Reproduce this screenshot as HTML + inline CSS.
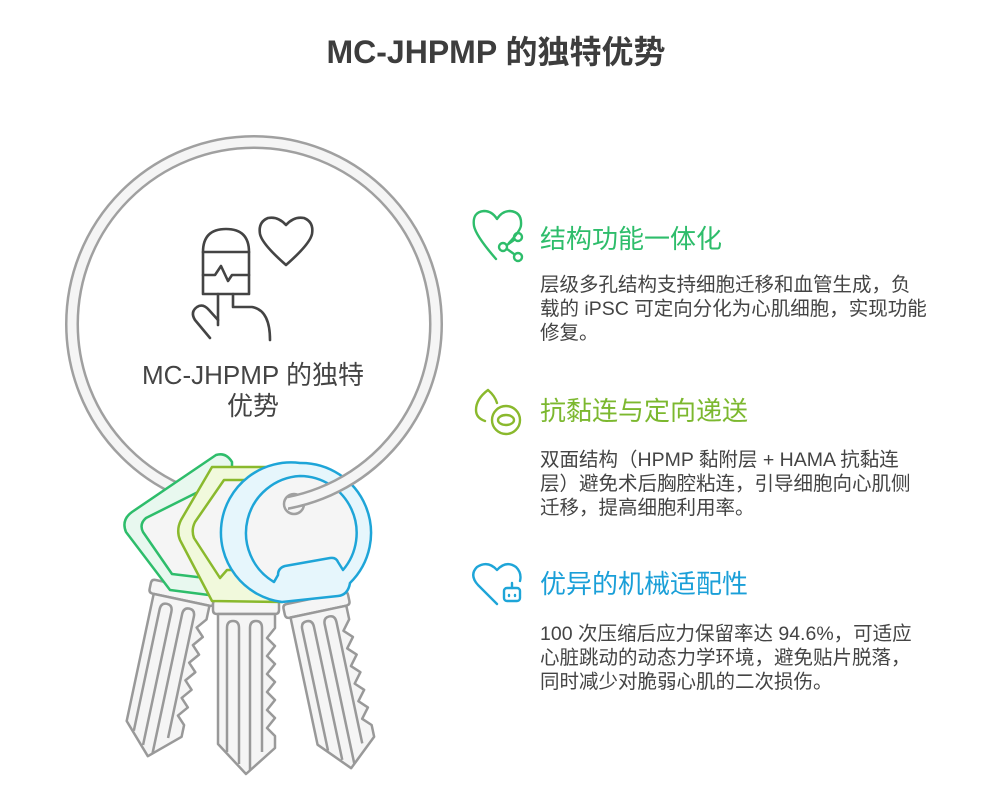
<!DOCTYPE html>
<html><head><meta charset="utf-8"><style>
body{margin:0;background:#fff}
svg{display:block}
text{font-family:"Liberation Sans","Noto Sans CJK SC",sans-serif}
</style></head><body>
<svg width="995" height="801" viewBox="0 0 995 801" xmlns="http://www.w3.org/2000/svg">
<defs>
<clipPath id="cl"><rect x="288" y="430" width="200" height="100"/></clipPath>
<g id="blade">
<path d="M-33,4 Q-33,0 -29,0 L29,0 Q33,0 33,4 L33,10 Q33,14 29,14 L-29,14 Q-33,14 -33,10 Z" fill="#f5f5f5" stroke="#999" stroke-width="2.5"/>
<path d="M-28,14 L-28,144 L0,174 L29,148 L29,136 L21,128 L29,118 L21,110 L29,100 L21,92 L29,82 L21,74 L29,64 L21,56 L29,46 L21,38 L29,28 L29,14 Z" fill="#f5f5f5" stroke="#999" stroke-width="2.5" stroke-linejoin="round"/>
<path d="M-19,152 L-19,28 Q-19,21 -13,21 Q-7,21 -7,28 L-7,164" fill="none" stroke="#999" stroke-width="2.5"/>
<path d="M4,170 L4,28 Q4,21 10,21 Q16,21 16,28 L16,152" fill="none" stroke="#999" stroke-width="2.5"/>
</g>
</defs>
<text x="496" y="63" text-anchor="middle" font-size="32" font-weight="bold" fill="#3d3d3d">MC-JHPMP 的独特优势</text>

<use href="#blade" transform="translate(184,586) rotate(12)"/>
<use href="#blade" transform="translate(246,600)"/>
<use href="#blade" transform="translate(315,598) rotate(-12)"/>

<circle cx="254" cy="324" r="182" fill="none" stroke="#a0a0a0" stroke-width="14"/>
<circle cx="254" cy="324" r="182" fill="none" stroke="#f5f5f5" stroke-width="9"/>

<path d="M216,455 Q226,452 232,462 L232,598 L170,590 L126,532 Q121,520 132,512 Z" fill="#e8f8ef" stroke="#2ebd6b" stroke-width="2.5" stroke-linejoin="round"/>
<path d="M222,480 L222,580 L172,574 L143,532 Q139,524 146,518 Z" fill="#f5f5f5" stroke="#2ebd6b" stroke-width="2.5" stroke-linejoin="round"/>
<path d="M212,467 L282,467 L282,602 L212,601 L180,540 Q176,530 181,520 Z" fill="#f1f9dc" stroke="#8ab92d" stroke-width="2.5" stroke-linejoin="round"/>
<path d="M224,480 L282,480 L282,570 L227,570 L220,578 L194,538 Q191,530 195,522 Z" fill="#f5f5f5" stroke="#8ab92d" stroke-width="2.5" stroke-linejoin="round"/>
<path d="M300,463 A70,70 0 0 1 350,583 Q348,595 338,596 L282,602 A70,70 0 0 1 300,463 Z" fill="#e6f6fc" stroke="#1ea5d8" stroke-width="2.5"/>
<path d="M300,476 A57,57 0 0 1 343,570 L338,562 Q336,557 330,558 L285,566 Q278,568 278,575 L274,582 A57,57 0 0 1 300,476 Z" fill="#f5f5f5" stroke="#1ea5d8" stroke-width="2.5" stroke-linejoin="round"/>
<circle cx="294" cy="504" r="10" fill="#f5f5f5" stroke="#a0a0a0" stroke-width="2.5"/>
<g clip-path="url(#cl)">
<circle cx="254" cy="324" r="182" fill="none" stroke="#a0a0a0" stroke-width="14"/>
<circle cx="254" cy="324" r="182" fill="none" stroke="#f5f5f5" stroke-width="9"/>
</g>

<g fill="none" stroke="#444" stroke-width="2.6" stroke-linecap="round" stroke-linejoin="round">
<path d="M203,294 L203,252 Q203,229 226,229 Q249,229 249,252 L249,294 Z"/>
<path d="M203,252 L249,252"/>
<path d="M203,275 L215,275 L221,266 L228,281 L232,275 L249,275"/>
<path d="M218,294 L218,325"/>
<path d="M233,294 L233,307 L252,307 Q270,310 270,340"/>
<path d="M210,338 L195,320 Q190,312 197,307 Q203,303 209,310 L218,320"/>
<path d="M286,225 Q278,216 268,218 Q258,222 260,234 Q262,244 286,265 Q310,244 312,234 Q314,222 304,218 Q294,216 286,225 Z"/>
</g>
<text x="253" y="384" text-anchor="middle" font-size="26" fill="#444">MC-JHPMP 的独特</text>
<text x="253" y="415" text-anchor="middle" font-size="26" fill="#444">优势</text>

<g fill="none" stroke-width="2.4" stroke-linecap="round" stroke-linejoin="round">
<g stroke="#2ebd6b">
<path d="M509,243 Q521,230 521,225 Q522,212 510,211 Q502,211 497,219 Q492,211 484,211 Q472,212 474,226 Q476,236 496,259"/>
<circle cx="518" cy="237" r="4"/><circle cx="503" cy="247" r="4"/><circle cx="518" cy="257" r="4"/>
<path d="M507,245 L514,240 M507,249 L514,254"/>
</g>
<g stroke="#8ab92d">
<path d="M488,390 Q476,399 476,410 Q476,418 485,421 M488,390 Q495,396 497,403"/>
<circle cx="506" cy="420" r="14"/>
<ellipse cx="506" cy="420" rx="8" ry="5"/>
</g>
<g stroke="#1ea5d8">
<path d="M497,604 L478,585 Q469,575 477,567 Q488,560 497,570 Q506,560 516,567 Q522,573 520,581"/>
<rect x="504" y="588" width="16" height="13" rx="3"/>
<path d="M512,588 L512,583"/>
<path d="M509,595 L509,596 M515,595 L515,596"/>
</g>
</g>

<text x="540" y="248" font-size="26" fill="#2ebd6b">结构功能一体化</text>
<g font-size="19.5" fill="#444">
<text x="540" y="291">层级多孔结构支持细胞迁移和血管生成，负</text>
<text x="540" y="315">载的 iPSC 可定向分化为心肌细胞，实现功能</text>
<text x="540" y="339">修复。</text>
</g>
<text x="540" y="420" font-size="26" fill="#7cb82f">抗黏连与定向递送</text>
<g font-size="19.5" fill="#444">
<text x="540" y="466">双面结构（HPMP 黏附层 + HAMA 抗黏连</text>
<text x="540" y="490">层）避免术后胸腔粘连，引导细胞向心肌侧</text>
<text x="540" y="514">迁移，提高细胞利用率。</text>
</g>
<text x="540" y="593" font-size="26" fill="#1a9fd8">优异的机械适配性</text>
<g font-size="19.5" fill="#444">
<text x="540" y="640">100 次压缩后应力保留率达 94.6%，可适应</text>
<text x="540" y="664">心脏跳动的动态力学环境，避免贴片脱落，</text>
<text x="540" y="688">同时减少对脆弱心肌的二次损伤。</text>
</g>
</svg>
</body></html>
